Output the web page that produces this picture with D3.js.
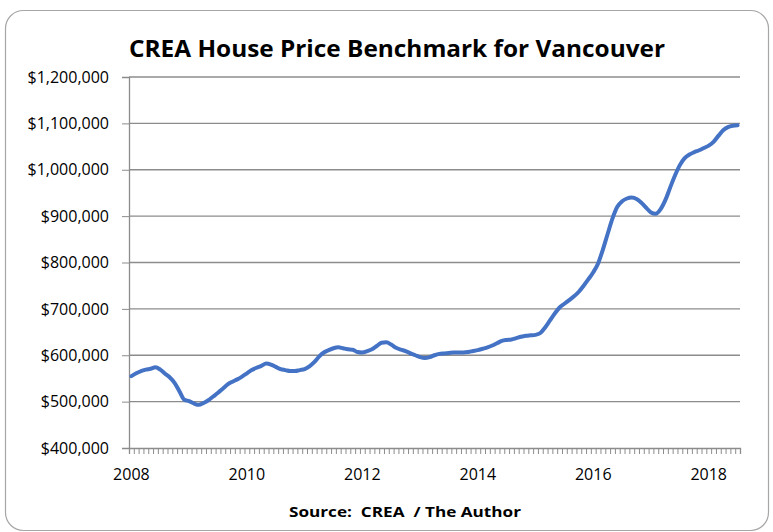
<!DOCTYPE html>
<html>
  <head>
    <meta charset="utf-8">
    <title>CREA House Price Benchmark for Vancouver</title>
    <script src="https://cdn.jsdelivr.net/npm/d3@7"></script>
    <style>
      body { margin: 0; background: #fff; }
      text { font-family: "Open Sans", "Noto Sans", sans-serif; fill: #000; }
    </style>
  </head>
  <body>
    <script>
      // Monthly benchmark price (thousands of $), Jan 2008 onward
      var startYear = 2008;
      var prices = [
        555, 561, 566, 569, 571, 574, 569, 560, 552, 540, 522, 504,
        501, 496, 493, 497, 503, 511, 519, 528, 537, 543, 548, 554,
        561, 568, 573, 577, 582, 580, 575, 570, 568, 566, 566, 568,
        570, 576, 585, 597, 606, 611, 615, 617, 615, 613, 612, 607,
        606, 609, 613, 620, 627, 628, 623, 616, 612, 609, 604, 600,
        596, 594, 596, 600, 603, 604, 605, 606, 606, 606, 607, 609,
        611, 614, 617, 621, 626, 631, 633, 634, 637, 640, 642, 643,
        644, 648, 660, 675, 690, 703, 711, 719, 727, 737, 750, 764,
        779, 798, 828, 862, 895, 920, 932, 938, 940, 937, 929, 918,
        908, 905, 915, 935, 962, 988, 1010, 1025, 1033, 1038, 1042, 1047,
        1052, 1060, 1073, 1085, 1092, 1095, 1096
      ];
      var yTicks = [400000, 500000, 600000, 700000, 800000, 900000, 1000000, 1100000, 1200000];
      var yearLabels = [2008, 2010, 2012, 2014, 2016, 2018];

      var W = 773, H = 532;
      var plotLeft = 129, plotRight = 740, plotTop = 77, plotBottom = 448;

      var svg = d3.select("body").append("svg")
          .attr("width", W)
          .attr("height", H);

      // chart frame
      svg.append("rect")
          .attr("x", 5.5).attr("y", 10.5)
          .attr("width", 763).attr("height", 520)
          .attr("rx", 18).attr("ry", 18)
          .attr("fill", "#fff")
          .attr("stroke", "#a6a6a6")
          .attr("stroke-width", 1.2);

      var x = d3.scaleLinear().domain([0, prices.length]).range([plotLeft, plotRight]);
      var y = d3.scaleLinear().domain([400000, 1200000]).range([plotBottom, plotTop]);

      // gridlines
      svg.append("g")
          .selectAll("line")
          .data(yTicks.slice(1))
          .enter().append("line")
          .attr("x1", plotLeft).attr("x2", plotRight)
          .attr("y1", function(d) { return y(d); })
          .attr("y2", function(d) { return y(d); })
          .attr("stroke", "#8c8c8c")
          .attr("stroke-width", 1.3);

      // y axis
      var yAxis = svg.append("g")
          .attr("transform", "translate(" + plotLeft + ",0)")
          .call(d3.axisLeft(y)
                  .tickValues(yTicks)
                  .tickSize(7)
                  .tickPadding(13)
                  .tickFormat(function(d) { return "$" + d3.format(",")(d); }));
      yAxis.select(".domain").attr("stroke", "#8c8c8c").attr("stroke-width", 1.3);
      yAxis.selectAll(".tick line").attr("stroke", "#8c8c8c");
      yAxis.selectAll("text")
          .attr("fill", "#000")
          .style("font-size", "16px")
          .style("font-family", "'Open Sans', 'Noto Sans', sans-serif");

      // x axis: a minor tick for every month
      var xAxis = svg.append("g")
          .attr("transform", "translate(0," + plotBottom + ")")
          .call(d3.axisBottom(x)
                  .tickValues(d3.range(0, prices.length + 1))
                  .tickSize(6)
                  .tickFormat(""));
      xAxis.select(".domain").attr("stroke", "#8c8c8c").attr("stroke-width", 1.3);
      xAxis.selectAll(".tick line").attr("stroke", "#8c8c8c");

      // year labels
      svg.append("g")
          .selectAll("text")
          .data(yearLabels)
          .enter().append("text")
          .attr("x", function(d) { return x((d - startYear) * 12 + 0.5); })
          .attr("y", 480)
          .attr("text-anchor", "middle")
          .style("font-size", "16px")
          .text(function(d) { return d; });

      // price line
      var line = d3.line()
          .x(function(d, i) { return x(i + 0.5); })
          .y(function(d) { return y(d * 1000); })
          .curve(d3.curveMonotoneX);

      svg.append("path")
          .datum(prices)
          .attr("d", line)
          .attr("fill", "none")
          .attr("stroke", "#4472c4")
          .attr("stroke-width", 4)
          .attr("stroke-linejoin", "round")
          .attr("stroke-linecap", "round");

      // title
      svg.append("text")
          .attr("x", 397)
          .attr("y", 57)
          .attr("text-anchor", "middle")
          .attr("textLength", 536)
          .attr("lengthAdjust", "spacingAndGlyphs")
          .style("font-size", "24px")
          .style("font-weight", "bold")
          .text("CREA House Price Benchmark for Vancouver");

      // source
      svg.append("text")
          .attr("x", 405)
          .attr("y", 517)
          .attr("text-anchor", "middle")
          .attr("textLength", 232)
          .attr("lengthAdjust", "spacingAndGlyphs")
          .style("font-size", "14px")
          .style("font-weight", "bold")
          .style("white-space", "pre")
          .text("Source:  CREA  / The Author");
    </script>
  </body>
</html>
